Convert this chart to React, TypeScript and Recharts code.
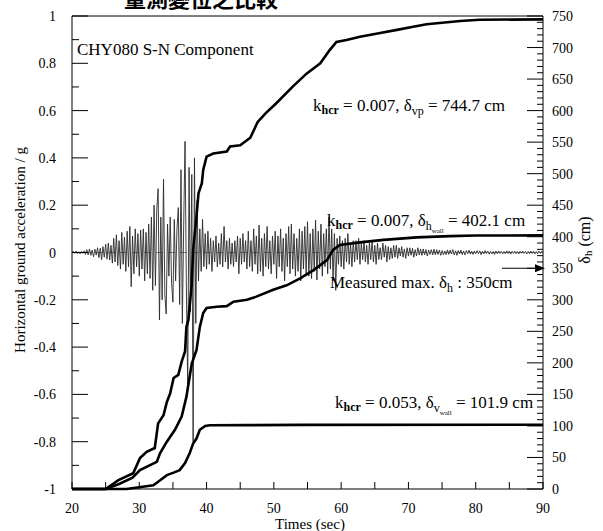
import { ComposedChart, Line, XAxis, YAxis, ReferenceLine } from 'recharts'

// acceleration record, one value every 0.2 s from 20 s to 90 s
const accStart = 20
const accStep = 0.2
const accValues = [
  0, 0.004, -0.003, 0.006, -0.005, 0.003, -0.006, 0.005, -0.004, 0.007,
  -0.008, 0.012, -0.01, 0.015, -0.012, 0.01, -0.018, 0.014, -0.011, 0.02,
  -0.022, 0.018, -0.03, 0.025, -0.02, 0.035, -0.028, 0.04, -0.032, 0.03,
  -0.045, 0.06, -0.04, 0.075, -0.055, 0.05, -0.07, 0.085, -0.05, 0.065,
  -0.08, 0.09, -0.06, 0.11, -0.145, 0.07, -0.09, 0.1, -0.06, 0.08,
  -0.1, 0.095, -0.07, 0.1, -0.12, 0.085, -0.09, 0.12, -0.11, 0.15,
  -0.16, 0.2, -0.14, 0.18, 0.27, -0.285, 0.15, -0.2, 0.31, -0.18,
  -0.26, 0.12, -0.1, 0.15, -0.13, -0.21, 0.14, -0.12, 0.1, 0.19,
  -0.22, 0.35, -0.3, 0.12, 0.47, -0.15, -0.57, 0.36, -0.25, 0.33,
  -0.8, 0.4, -0.3, 0.22, -0.12, 0.1, -0.08, 0.14, -0.06, 0.08,
  -0.07, 0.09, -0.05, 0.06, -0.08, 0.05, -0.04, 0.07, -0.06, 0.04,
  -0.05, 0.08, -0.06, 0.11, -0.04, 0.05, -0.07, 0.06, -0.05, 0.04,
  -0.06, 0.05, -0.04, 0.07, -0.09, 0.06, -0.05, 0.08, -0.04, 0.05,
  -0.07, 0.09, -0.06, 0.05, -0.08, 0.1, -0.05, 0.07, -0.09, 0.116,
  -0.08, 0.06, -0.1, 0.08, -0.06, 0.11, -0.07, 0.05, -0.09, 0.07,
  -0.05, 0.09, -0.11, 0.07, -0.06, 0.1, -0.08, 0.06, -0.12, 0.08,
  -0.06, 0.11, -0.09, 0.12, -0.07, 0.08, -0.1, 0.06, -0.08, 0.1,
  -0.12, 0.09, -0.07, 0.11, -0.09, 0.13, -0.1, 0.08, -0.11, 0.1,
  -0.08, 0.137, -0.116, 0.09, -0.07, 0.12, -0.1, 0.08, -0.06, 0.1,
  -0.09, 0.15, -0.07, 0.1, -0.12, 0.08, -0.16, 0.06, -0.05, 0.07,
  -0.06, 0.05, -0.07, 0.06, -0.04, 0.08, -0.05, 0.04, -0.06, 0.05,
  -0.04, 0.05, -0.03, 0.06, -0.05, 0.04, -0.03, 0.05, -0.04, 0.03,
  -0.05, 0.04, -0.03, 0.05, -0.04, 0.03, -0.05, 0.04, -0.03, 0.02,
  -0.03, 0.04, -0.02, 0.03, -0.04, 0.025, -0.03, 0.02, -0.025, 0.03,
  -0.02, 0.03, -0.025, 0.02, -0.015, 0.025, -0.02, 0.015, -0.025, 0.02,
  -0.015, 0.02, -0.012, 0.018, -0.02, 0.012, -0.015, 0.02, -0.01, 0.015,
  -0.012, 0.015, -0.01, 0.012, -0.015, 0.01, -0.008, 0.012, -0.01, 0.014,
  -0.01, 0.012, -0.008, 0.01, -0.012, 0.008, -0.01, 0.006, -0.009, 0.011,
  -0.008, 0.01, -0.006, 0.012, -0.01, 0.007, -0.012, 0.008, -0.006, 0.01,
  -0.009, 0.006, -0.01, 0.008, -0.005, 0.01, -0.007, 0.005, -0.008, 0.006,
  -0.006, 0.008, -0.005, 0.007, -0.009, 0.005, -0.006, 0.008, -0.004, 0.006,
  -0.007, 0.005, -0.006, 0.004, -0.008, 0.006, -0.005, 0.007, -0.004, 0.005,
  -0.006, 0.004, -0.005, 0.007, -0.004, 0.006, -0.007, 0.005, -0.004, 0.006,
  -0.005, 0.004, -0.006, 0.005, -0.003, 0.006, -0.004, 0.005, -0.006, 0.004,
  -0.005, 0.006, -0.004, 0.005, -0.006, 0.004, -0.005, 0.006, -0.004, 0.005,
  0,
]

// k_hcr = 0.007, delta_vp
const vpTimes = [20, 25, 26.9, 29.1, 30.1, 31.1, 32.3, 32.8, 33.6, 34.1, 34.6, 35.1, 35.8, 36.3, 36.8, 37, 37.3, 37.8, 38, 38.5, 38.8, 39.3, 39.5, 40, 41, 43, 43.5, 45, 46.5, 47.6, 48.8, 50.4, 52.8, 54.9, 56.9, 58.3, 59.3, 60.8, 62.8, 65.8, 68.3, 70.7, 72.7, 77.7, 80.6, 90]
const vpValues = [0, 0, 14, 25, 49, 59, 65, 104, 117, 138, 152, 176, 181, 202, 218, 257, 268, 326, 379, 432, 469, 485, 506, 527, 532, 535, 543, 545, 557, 582, 596, 612, 638, 659, 675, 696, 709, 712, 717, 723, 728, 733, 737, 742, 744, 744.7]

// k_hcr = 0.007, delta_h wall
const hwTimes = [20, 25, 27, 29, 30.1, 32.6, 33.1, 34.1, 35.3, 36.3, 37, 37.8, 38.5, 39, 39.5, 40, 41.5, 43, 44, 46, 47.4, 49.9, 51.9, 53.9, 55.9, 57.9, 58.8, 59.8, 62.8, 66.3, 71.2, 76.2, 80, 90]
const hwValues = [0, 0, 8, 18, 30, 43, 57, 75, 94, 115, 146, 199, 220, 257, 279, 287, 289, 290, 297, 300, 305, 316, 323, 334, 347, 363, 379, 387, 391, 395, 399, 401, 402, 402.1]

// k_hcr = 0.053, delta_v wall
const vwTimes = [20, 28.1, 32.1, 33.1, 34.1, 35.1, 36, 36.8, 37.5, 38, 38.5, 39, 39.8, 40.5, 46, 54, 90]
const vwValues = [0, 0, 6, 14, 22, 26, 30, 41, 57, 72, 80, 94, 100, 101, 101.3, 101.6, 101.9]

const measuredMax = 350

const timeTicks = [20, 25, 30, 35, 40, 45, 50, 55, 60, 65, 70, 75, 80, 85, 90]
const accTicks = [-1, -0.9, -0.8, -0.7, -0.6, -0.5, -0.4, -0.3, -0.2, -0.1, 0, 0.1, 0.2, 0.3, 0.4, 0.5, 0.6, 0.7, 0.8, 0.9, 1]
const dispTicks = [
  0, 10, 20, 30, 40, 50, 60, 70, 80, 90, 100, 110, 120, 130, 140, 150, 160, 170, 180, 190,
  200, 210, 220, 230, 240, 250, 260, 270, 280, 290, 300, 310, 320, 330, 340, 350, 360, 370, 380, 390,
  400, 410, 420, 430, 440, 450, 460, 470, 480, 490, 500, 510, 520, 530, 540, 550, 560, 570, 580, 590,
  600, 610, 620, 630, 640, 650, 660, 670, 680, 690, 700, 710, 720, 730, 740, 750,
]

const accData = accValues.map((a, i) => ({ t: Math.round((accStart + i * accStep) * 10) / 10, a }))
const vpData = vpTimes.map((t, i) => ({ t, d: vpValues[i] }))
const hwData = hwTimes.map((t, i) => ({ t, d: hwValues[i] }))
const vwData = vwTimes.map((t, i) => ({ t, d: vwValues[i] }))

const FONT = "'Liberation Serif', 'Times New Roman', serif"

function BottomTick(props: any) {
  const { x, y, payload } = props
  const v = payload.value
  return (
    <g>
      <line x1={x} y1={y} x2={x} y2={y - 7} stroke="#000" />
      {v % 10 === 0 && (
        <text x={x} y={y + 24} textAnchor="middle" fontSize={14} fontFamily={FONT} fill="#000">
          {v}
        </text>
      )}
    </g>
  )
}

function LeftTick(props: any) {
  const { x, y, payload } = props
  const v = payload.value
  const major = Math.round(v * 10) % 2 === 0
  return (
    <g>
      <line x1={x} y1={y} x2={x + (major ? 16 : 7)} y2={y} stroke="#000" />
      {major && (
        <text x={x - 16} y={y + 5} textAnchor="end" fontSize={14} fontFamily={FONT} fill="#000">
          {String(Number(v.toFixed(1)))}
        </text>
      )}
    </g>
  )
}

function RightTick(props: any) {
  const { x, y, payload } = props
  const v = payload.value
  const major = v % 50 === 0
  return (
    <g>
      <line x1={x} y1={y} x2={x - (major ? 16 : 6)} y2={y} stroke="#000" />
      {major && (
        <text x={x + 9} y={y + 5} textAnchor="start" fontSize={14} fontFamily={FONT} fill="#000">
          {v}
        </text>
      )}
    </g>
  )
}

function ArrowShape(props: any) {
  const { x1, y1, x2, y2 } = props
  return (
    <g>
      <line x1={x1} y1={y1} x2={x2 - 6} y2={y2} stroke="#000" strokeWidth={1.2} />
      <polygon points={`${x2 + 2},${y2} ${x2 - 8},${y2 - 4} ${x2 - 8},${y2 + 4}`} fill="#000" />
    </g>
  )
}

export default function App() {
  return (
    <div style={{ position: 'absolute', left: 0, top: 0, width: 603, height: 531, background: '#fff' }}>
      <ComposedChart width={603} height={531} margin={{ top: 16, right: 0, bottom: 0, left: 0 }}>
        <XAxis
          dataKey="t"
          type="number"
          domain={[20, 90]}
          ticks={timeTicks}
          interval={0}
          height={42}
          tickSize={0}
          tickMargin={0}
          tickLine={false}
          tick={BottomTick}
          axisLine={{ stroke: '#000' }}
        />
        <YAxis
          yAxisId="acc"
          type="number"
          domain={[-1, 1]}
          ticks={accTicks}
          interval={0}
          width={72}
          tickSize={0}
          tickMargin={0}
          tickLine={false}
          tick={LeftTick}
          axisLine={{ stroke: '#000' }}
        />
        <YAxis
          yAxisId="disp"
          orientation="right"
          type="number"
          domain={[0, 750]}
          ticks={dispTicks}
          interval={0}
          width={60}
          tickSize={0}
          tickMargin={0}
          tickLine={false}
          tick={RightTick}
          axisLine={{ stroke: '#000' }}
        />
        <ReferenceLine yAxisId="acc" y={1} stroke="#000" />
        <ReferenceLine yAxisId="acc" y={0} stroke="#555" strokeWidth={0.7} strokeDasharray="7 5" />
        <Line
          yAxisId="acc"
          data={accData}
          dataKey="a"
          type="linear"
          stroke="#2a2a2a"
          strokeWidth={0.9}
          dot={false}
          isAnimationActive={false}
        />
        <Line yAxisId="disp" data={vpData} dataKey="d" type="linear" stroke="#000" strokeWidth={2.6} dot={false} isAnimationActive={false} />
        <Line yAxisId="disp" data={hwData} dataKey="d" type="linear" stroke="#000" strokeWidth={2.6} dot={false} isAnimationActive={false} />
        <Line yAxisId="disp" data={vwData} dataKey="d" type="linear" stroke="#000" strokeWidth={2.6} dot={false} isAnimationActive={false} />
        <ReferenceLine
          yAxisId="disp"
          segment={[{ x: 83.9, y: measuredMax }, { x: 90, y: measuredMax }]}
          shape={ArrowShape}
        />
      </ComposedChart>

      <svg
        width={603}
        height={531}
        style={{ position: 'absolute', left: 0, top: 0, pointerEvents: 'none' }}
        fontFamily={FONT}
        fill="#000"
      >
        <text x={124} y={7} fontSize={22} fontWeight="bold" fontFamily="'Noto Sans CJK TC', sans-serif">
          量測變位之比較
        </text>
        <text x={77} y={55} fontSize={17}>CHY080 S-N Component</text>

        <text x={313} y={111} fontSize={17}>
          k<tspan fontSize={12} fontWeight="bold" dy={3}>hcr</tspan>
          <tspan dy={-3}> = 0.007, δ</tspan>
          <tspan fontSize={12} dy={4}>vp</tspan>
          <tspan dy={-4}> = 744.7 cm</tspan>
        </text>

        <text x={327} y={226} fontSize={17}>
          k<tspan fontSize={12} fontWeight="bold" dy={3}>hcr</tspan>
          <tspan dy={-3}> = 0.007, δ</tspan>
          <tspan fontSize={12} dy={4}>h</tspan>
          <tspan fontSize={7} dy={3}>wall</tspan>
          <tspan dy={-7}> = 402.1 cm</tspan>
        </text>

        <text x={330} y={288} fontSize={17}>
          Measured max. δ<tspan fontSize={12} dy={4}>h</tspan>
          <tspan dy={-4}>  : 350cm</tspan>
        </text>

        <text x={335} y={408} fontSize={17}>
          k<tspan fontSize={12} fontWeight="bold" dy={3}>hcr</tspan>
          <tspan dy={-3}> = 0.053, δ</tspan>
          <tspan fontSize={12} dy={4}>v</tspan>
          <tspan fontSize={7} dy={3}>wall</tspan>
          <tspan dy={-7}> = 101.9 cm</tspan>
        </text>

        <text x={22} y={250} fontSize={15} textAnchor="middle" transform="rotate(-90 22 250)" dominantBaseline="middle">
          Horizontal ground acceleration / g
        </text>
        <text x={586} y={240} fontSize={16} textAnchor="middle" transform="rotate(-90 586 240)" dominantBaseline="middle">
          δ<tspan fontSize={11} dy={3}>h</tspan>
          <tspan dy={-3}> (cm)</tspan>
        </text>
        <text x={310} y={529} fontSize={15} textAnchor="middle">Times (sec)</text>
      </svg>
    </div>
  )
}
